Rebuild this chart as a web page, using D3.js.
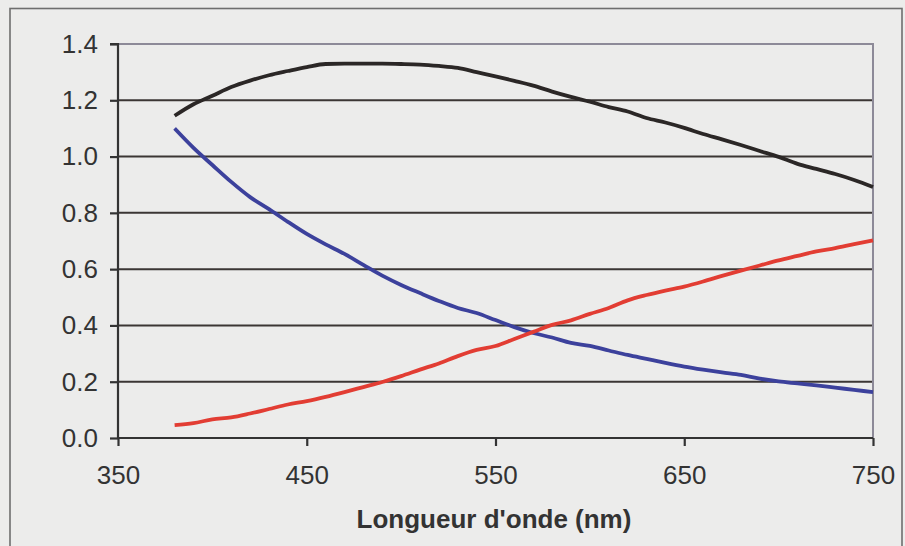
<!DOCTYPE html>
<html><head><meta charset="utf-8">
<script src="https://cdn.jsdelivr.net/npm/d3@7"></script>
<style>
html,body{margin:0;padding:0;background:#ececeb;}
svg{display:block;}
</style></head>
<body>
<svg id="chart" width="905" height="546"></svg>
<script>
const wavelengths = [380,390,400,410,420,430,440,450,460,470,480,490,500,510,520,530,540,550,560,570,580,590,600,610,620,630,640,650,660,670,680,690,700,710,720,730,740,750];
const blackSeries = [1.145,1.186,1.216,1.247,1.270,1.289,1.304,1.318,1.329,1.330,1.330,1.330,1.329,1.327,1.322,1.315,1.300,1.285,1.269,1.252,1.231,1.212,1.195,1.176,1.160,1.137,1.121,1.102,1.080,1.061,1.041,1.020,0.999,0.974,0.956,0.938,0.917,0.892];
const blueSeries = [1.100,1.031,0.970,0.910,0.856,0.813,0.768,0.725,0.688,0.654,0.615,0.577,0.544,0.515,0.487,0.462,0.444,0.419,0.394,0.373,0.357,0.338,0.327,0.311,0.295,0.281,0.267,0.254,0.243,0.233,0.224,0.211,0.201,0.194,0.187,0.179,0.171,0.163];
const redSeries = [0.046,0.053,0.066,0.073,0.087,0.103,0.119,0.131,0.146,0.163,0.181,0.199,0.220,0.243,0.265,0.291,0.313,0.327,0.352,0.377,0.402,0.418,0.441,0.462,0.489,0.508,0.524,0.538,0.556,0.576,0.595,0.613,0.631,0.647,0.663,0.675,0.689,0.702];
const xTicks = [350,450,550,650,750];
const yTicks = [0,0.2,0.4,0.6,0.8,1.0,1.2,1.4];
const xTitle = "Longueur d'onde (nm)";

const svg = d3.select("#chart");
const L = 118, R = 873, T = 44, B = 438;
const x = d3.scaleLinear().domain([350,750]).range([L,R]);
const y = d3.scaleLinear().domain([0,1.4]).range([B,T]);

// outer frame
svg.append("rect").attr("x",10).attr("y",8.5).attr("width",892).attr("height",560)
  .attr("fill","none").attr("stroke","#6e6e6e").attr("stroke-width",1.6);

// gridlines
svg.append("g").selectAll("line").data(yTicks.filter(d=>d>0 && d<1.4)).join("line")
  .attr("x1",L).attr("x2",R).attr("y1",d=>y(d)).attr("y2",d=>y(d))
  .attr("stroke","#3b3634").attr("stroke-width",2);

// top & right border
svg.append("path").attr("d",`M${L},${T}H${R}V${B}`).attr("fill","none")
  .attr("stroke","#8d8a98").attr("stroke-width",2);

const font = "'Liberation Sans', Arial, sans-serif";

// axes
const yAxis = d3.axisLeft(y).tickValues(yTicks).tickFormat(d3.format(".1f")).tickSize(8).tickPadding(12);
const gy = svg.append("g").attr("transform",`translate(${L},0)`).call(yAxis);
const xAxis = d3.axisBottom(x).tickValues(xTicks).tickFormat(d3.format("d")).tickSize(8).tickPadding(20);
const gx = svg.append("g").attr("transform",`translate(0,${B})`).call(xAxis);
[gy,gx].forEach(g=>{
  g.select(".domain").attr("stroke","#333").attr("stroke-width",2.2);
  g.selectAll(".tick line").attr("stroke","#333").attr("stroke-width",2.2);
  g.selectAll(".tick text").attr("fill","#333").style("font-family",font).style("font-size","26px");
});
gy.select(".domain").attr("d",`M-8,${T}H0V${B}`);
gx.select(".domain").attr("d",`M${L},0H${R}`);

// lines
const line = vals => d3.line().x((d,i)=>x(wavelengths[i])).y(d=>y(d)).curve(d3.curveMonotoneX)(vals);
[[blackSeries,"#2b2726"],[blueSeries,"#3c419c"],[redSeries,"#e23d33"]].forEach(([s,c])=>{
  svg.append("path").attr("d",line(s)).attr("fill","none").attr("stroke",c)
    .attr("stroke-width",3.8).attr("stroke-linejoin","round").attr("stroke-linecap","butt");
});

// x title
svg.append("text").attr("x",494).attr("y",528).attr("text-anchor","middle")
  .style("font-family",font).style("font-size","26px").style("font-weight","bold")
  .attr("fill","#333").text(xTitle);
</script>
</body></html>
